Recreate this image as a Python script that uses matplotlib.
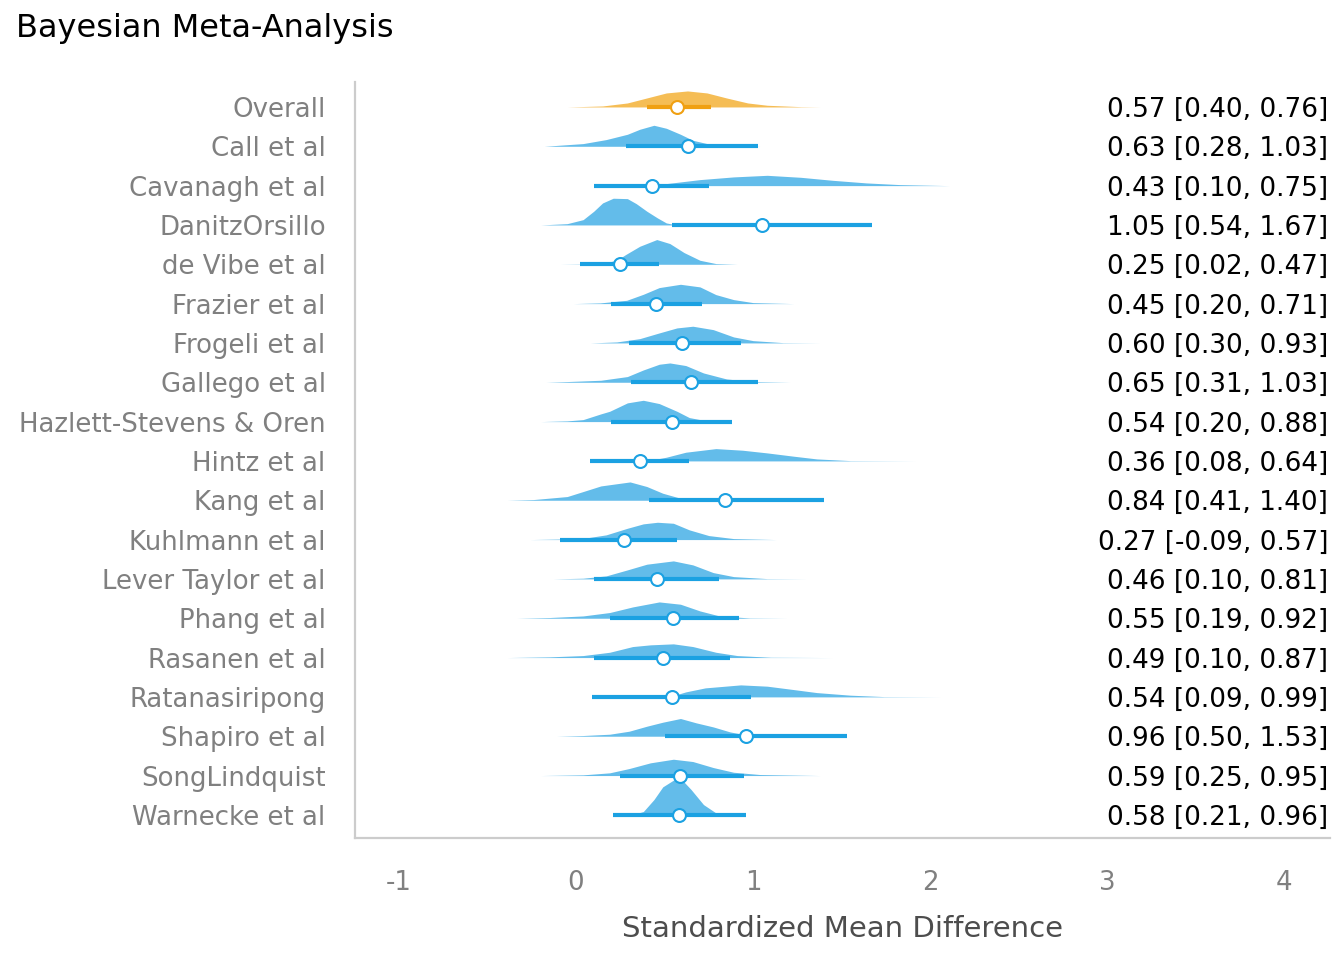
import matplotlib.pyplot as plt

studies = ['Overall', 'Call et al', 'Cavanagh et al', 'DanitzOrsillo', 'de Vibe et al',
           'Frazier et al', 'Frogeli et al', 'Gallego et al', 'Hazlett-Stevens & Oren',
           'Hintz et al', 'Kang et al', 'Kuhlmann et al', 'Lever Taylor et al',
           'Phang et al', 'Rasanen et al', 'Ratanasiripong', 'Shapiro et al',
           'SongLindquist', 'Warnecke et al']
est = [0.57, 0.63, 0.43, 1.05, 0.25, 0.45, 0.60, 0.65, 0.54, 0.36, 0.84, 0.27,
       0.46, 0.55, 0.49, 0.54, 0.96, 0.59, 0.58]
lower = [0.40, 0.28, 0.10, 0.54, 0.02, 0.20, 0.30, 0.31, 0.20, 0.08, 0.41, -0.09,
         0.10, 0.19, 0.10, 0.09, 0.50, 0.25, 0.21]
upper = [0.76, 1.03, 0.75, 1.67, 0.47, 0.71, 0.93, 1.03, 0.88, 0.64, 1.40, 0.57,
         0.81, 0.92, 0.87, 0.99, 1.53, 0.95, 0.96]

# posterior density outlines (x, relative height)
dens_x = [
    [-0.05, 0.15, 0.29, 0.40, 0.51, 0.63, 0.74, 0.85, 0.97, 1.08, 1.27, 1.38],
    [-0.18, 0.04, 0.17, 0.29, 0.36, 0.44, 0.51, 0.59, 0.66, 0.74, 0.89, 1.04],
    [0.30, 0.51, 0.70, 0.89, 1.08, 1.27, 1.45, 1.64, 1.83, 2.11],
    [-0.20, -0.05, 0.04, 0.10, 0.15, 0.21, 0.29, 0.34, 0.40, 0.46, 0.51, 0.57],
    [-0.09, 0.04, 0.17, 0.23, 0.28, 0.36, 0.456, 0.53, 0.61, 0.70, 0.79, 0.91],
    [-0.015, 0.136, 0.286, 0.38, 0.47, 0.59, 0.70, 0.79, 0.89, 1.0, 1.23],
    [0.08, 0.23, 0.36, 0.47, 0.57, 0.66, 0.775, 0.89, 1.0, 1.17, 1.38],
    [-0.17, -0.05, 0.14, 0.29, 0.38, 0.47, 0.53, 0.62, 0.72, 0.85, 1.0, 1.21],
    [-0.20, -0.05, 0.04, 0.14, 0.19, 0.29, 0.38, 0.47, 0.57, 0.64, 0.73, 0.85],
    [0.30, 0.42, 0.51, 0.62, 0.79, 0.94, 1.08, 1.23, 1.36, 1.55, 1.92],
    [-0.39, -0.24, -0.05, 0.04, 0.14, 0.21, 0.305, 0.40, 0.49, 0.59, 0.70],
    [-0.26, -0.05, 0.06, 0.17, 0.29, 0.38, 0.46, 0.55, 0.64, 0.75, 0.89, 1.13],
    [-0.13, 0.04, 0.17, 0.29, 0.40, 0.55, 0.66, 0.775, 0.89, 1.08, 1.30],
    [-0.335, -0.15, 0.04, 0.19, 0.32, 0.47, 0.59, 0.70, 0.81, 0.98, 1.19],
    [-0.39, -0.15, 0.04, 0.19, 0.32, 0.42, 0.55, 0.66, 0.79, 0.91, 1.10, 1.45],
    [0.35, 0.55, 0.62, 0.73, 0.93, 1.08, 1.23, 1.36, 1.55, 1.74, 2.06],
    [-0.11, 0.04, 0.19, 0.30, 0.40, 0.49, 0.59, 0.68, 0.775, 0.87, 0.96, 1.08],
    [-0.20, 0.04, 0.19, 0.30, 0.42, 0.55, 0.66, 0.775, 0.89, 1.04, 1.38],
    [0.29, 0.32, 0.38, 0.44, 0.49, 0.55, 0.60, 0.65, 0.72, 0.79, 0.87],
]
dens_h = [
    [0, 1, 4, 9, 14, 16, 14, 9, 4, 1.7, 0.3, 0],
    [0, 2.7, 6.7, 12, 17, 21, 18, 12, 6, 2.7, 0.7, 0],
    [0, 2, 6, 8.7, 10.3, 8.3, 5.3, 2.7, 1, 0],
    [0, 1.3, 5.3, 13.7, 22, 26.7, 26.3, 21.3, 13.7, 7, 2, 0],
    [0, 0.3, 1.7, 4, 9.7, 18, 24.7, 20.7, 11.7, 4, 0.7, 0],
    [0, 0.7, 3.3, 9.3, 16, 19.3, 16.7, 9, 4, 1, 0],
    [0, 1, 4.3, 10, 15, 16.7, 13.3, 6, 2.3, 0.3, 0],
    [0, 0.7, 2, 5.7, 12.3, 18, 19.3, 16.7, 9.3, 3.3, 0.7, 0],
    [0, 0.7, 2, 7.7, 10.3, 18.7, 21.3, 18, 10.3, 4, 1, 0],
    [0, 0.7, 3.7, 8.7, 12.3, 10.7, 8, 4.7, 2, 0.3, 0],
    [0, 0.7, 3.7, 8.7, 14.3, 16, 18.3, 13.7, 7, 2, 0],
    [0, 0.7, 1.7, 4.7, 11.3, 15.7, 17.3, 16.3, 9.7, 4, 1, 0],
    [0, 0.7, 3, 9, 14.7, 18, 14, 6.3, 2.3, 0.3, 0],
    [0, 0.7, 2.3, 5.7, 11.3, 16.3, 14, 7.3, 2.3, 0.3, 0],
    [0, 0.7, 2, 5.3, 11, 12.7, 13.7, 11, 5.3, 2, 0.3, 0],
    [0, 1.3, 5, 9, 12, 10.7, 7.3, 4.3, 1.7, 0.3, 0],
    [0, 0.7, 2, 5, 10, 14, 17.7, 13.3, 9.3, 4.3, 1.3, 0],
    [0, 0.7, 2.7, 7, 12.7, 16.3, 14, 8, 3.3, 1, 0],
    [0, 0.3, 3.3, 15.3, 28, 34.7, 34.7, 25.3, 10.3, 2, 0],
]

blue_fill, blue_line = '#63BCEA', '#1BA1E2'
orange_fill, orange_line = '#F5BD55', '#F0A012'
scale = 1 / 39.3

fig = plt.figure(figsize=(13.44, 9.6), dpi=100)
ax = fig.add_axes([0.264, 0.127, 0.7256, 0.7878])

for i in range(len(studies)):
    fc = orange_fill if i == 0 else blue_fill
    lc = orange_line if i == 0 else blue_line
    hs = [h * scale for h in dens_h[i]]
    ax.fill_between(dens_x[i], [i] * len(hs), [i - h for h in hs], color=fc, lw=0, zorder=2)
    ax.plot([lower[i], upper[i]], [i, i], color=lc, lw=3.0, solid_capstyle='butt', zorder=3)
    ax.plot(est[i], i, 'o', ms=9.3, mfc='white', mec=lc, mew=1.5, zorder=4)
    ax.text(0.998, i, '{:.2f} [{:.2f}, {:.2f}]'.format(est[i], lower[i], upper[i]),
            transform=ax.get_yaxis_transform(), ha='right', va='center_baseline',
            fontsize=18.9, color='black')

ax.set_xlim(-1.25, 4.26)
ax.set_ylim(18.59, -0.64)
ax.set_yticks(range(len(studies)))
ax.set_yticklabels(studies)
ax.set_xticks([-1, 0, 1, 2, 3, 4])
ax.set_xticklabels(['-1', '0', '1', '2', '3', '4'])
ax.tick_params(axis='y', length=0, pad=21, labelsize=18.7, labelcolor='#808080')
ax.tick_params(axis='x', length=0, pad=23, labelsize=18.7, labelcolor='#808080')
for s in ['top', 'right']:
    ax.spines[s].set_visible(False)
for s in ['left', 'bottom']:
    ax.spines[s].set_color('#CCCCCC')
    ax.spines[s].set_linewidth(1.6)
ax.set_xlabel('Standardized Mean Difference', fontsize=21, color='#4D4D4D', labelpad=14)
fig.text(16 / 1344, 1 - 28 / 960, 'Bayesian Meta-Analysis', fontsize=23, color='black',
         ha='left', va='center')

plt.savefig('out.png', dpi=100)
